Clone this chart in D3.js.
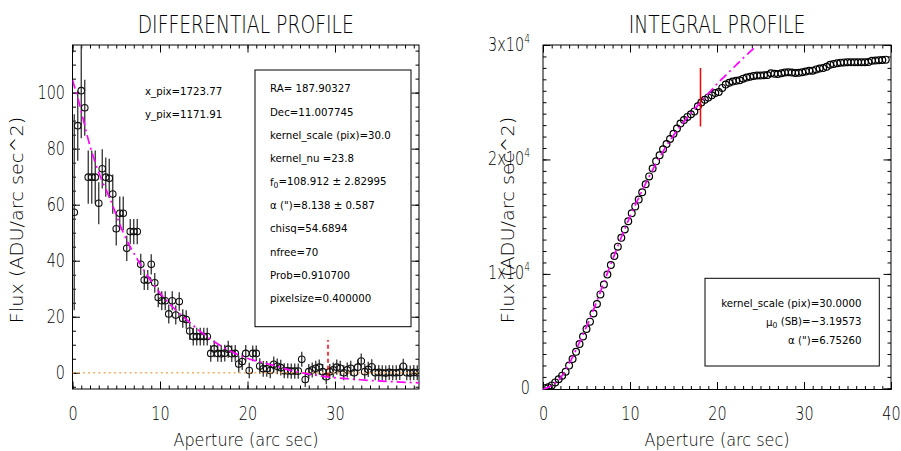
<!DOCTYPE html>
<html>
<head>
<meta charset="utf-8">
<script src="https://cdn.jsdelivr.net/npm/d3@7"></script>
<style>
  body { margin: 0; background: #fff; }
  text { font-family: "DejaVu Sans", sans-serif; font-weight: 300; fill: #000; }
  text.note { font-weight: 400; }
</style>
</head>
<body>
<svg id="chart" width="901" height="451"></svg>
<script>
// Aperture radii (arcsec) shared by both profiles
const aperture = [
  0.2,0.6,1.0,1.4,1.8,2.2,2.6,3.0,3.4,3.8,
  4.2,4.6,5.0,5.4,5.8,6.2,6.6,7.0,7.4,7.8,
  8.2,8.6,9.0,9.4,9.8,10.2,10.6,11.0,11.4,11.8,
  12.2,12.6,13.0,13.4,13.8,14.2,14.6,15.0,15.4,15.8,
  16.2,16.6,17.0,17.4,17.8,18.2,18.6,19.0,19.4,19.8,
  20.2,20.6,21.0,21.4,21.8,22.2,22.6,23.0,23.4,23.8,
  24.2,24.6,25.0,25.4,25.8,26.2,26.6,27.0,27.4,27.8,
  28.2,28.6,29.0,29.4,29.8,30.2,30.6,31.0,31.4,31.8,
  32.2,32.6,33.0,33.4,33.8,34.2,34.6,35.0,35.4,35.8,
  36.2,36.6,37.0,37.4,37.8,38.2,38.6,39.0,39.4
];

// Differential profile: surface brightness per annulus and its error
const diffFlux = [
  57.3,88.2,100.7,94.6,69.8,69.8,69.8,60.5,72.8,69.8,
  69.4,63.8,51.4,56.9,56.9,44.4,50.4,50.4,50.4,38.7,
  33.1,33.1,38.7,32.1,26.9,25.7,25.7,21.0,25.7,20.6,
  25.4,19.4,19.0,14.9,12.9,12.9,12.9,12.9,12.9,6.9,
  8.5,6.9,6.8,7.0,8.4,6.8,6.9,3.1,4.0,6.9,
  0.8,6.9,6.9,2.4,1.4,1.4,0.8,3.0,2.3,1.8,
  0.7,0.7,0.6,0.6,0.6,4.8,-2.4,0.4,1.0,1.6,
  2.0,0.4,-1.4,0.4,1.0,2.0,1.6,0.0,1.0,1.6,
  0.0,2.0,4.2,0.4,1.2,2.1,0.0,0.1,0.0,-0.1,
  0.1,0.0,0.0,0.1,2.3,0.0,-0.1,0.1,0.0
];
const diffErr = [
  35,12.5,17,10,9.5,9.5,9.5,7.5,7,7,
  7,7,6,6,6,4.5,4.5,4.5,4.5,3.8,
  3.6,3.6,3.6,3.5,3.5,3.4,3.4,3.4,3.4,3.4,
  3.3,3.3,3.3,3.2,3.2,3.2,3.2,3.2,3.2,3.0,
  3.0,3.0,3.0,3.0,3.0,3.0,3.0,3.0,3.0,3.0,
  2.8,2.8,2.8,2.8,2.8,2.8,2.8,2.8,2.8,2.8,
  2.7,2.7,2.7,2.7,2.7,2.7,2.7,2.7,2.7,2.7,
  2.7,2.7,2.7,2.7,2.7,2.7,2.7,2.7,2.7,2.7,
  2.7,2.7,2.7,2.7,2.7,2.7,2.7,2.7,2.7,2.7,
  2.7,2.7,2.7,2.7,2.7,2.7,2.7,2.7,2.7
];
// Fitted differential model
const diffFitX = [0,0.7,2,3,4.3,5.8,7.7,9.6,11.5,13.4,15.3,16.9,19.1,21,22.9,25.3,28.7,32.9,39.6];
const diffFitY = [104.5,97,81,71.5,62,50,39,30,23.3,18,13,9.7,6.2,4.2,2.7,0.6,-1.3,-2.5,-3.6];
const diffLimitX = 29.2;
const diffLimitY = [-1.4, 11.7];

// Integral (cumulative) profile and its fitted model
const intFlux = [
  20,100,260,520,800,1110,1450,1990,2560,3190,
  3880,4530,5180,5830,6540,7370,8210,9080,9940,10780,
  11570,12380,13150,13880,14600,15290,15900,16490,17130,17830,
  18520,19210,19840,20370,20890,21340,21790,22250,22700,23140,
  23440,23720,23950,24200,24650,24970,25220,25420,25600,25800,
  25900,26250,26550,26700,26800,26870,26920,27060,27150,27230,
  27300,27330,27340,27360,27380,27530,27480,27470,27530,27600,
  27620,27600,27560,27570,27620,27680,27740,27760,27870,27950,
  27980,28090,28280,28350,28400,28460,28480,28490,28490,28490,
  28490,28490,28490,28520,28620,28650,28660,28680,28720
];
const intFitX = [0,1,2,3,4,5,6,7,8,9,10,11,12,13,14,15,16,17,18,19,20,21,22,23,24,24.6];
const intFitY = [-100,250,900,2150,3700,5400,7250,9250,11250,13200,15000,16650,18200,19650,20950,22100,23100,24050,24900,25750,26600,27350,28100,28850,29550,30000];
const intLimitX = 18.1;
const intLimitY = [22880, 28000];

// Axis ticks
const diffTicksX = [0,10,20,30];
const diffTicksY = [0,20,40,60,80,100];
const intTicksX = [0,10,20,30,40];
const intTicksY = [0,10000,20000,30000];

// Annotation text
const diffCoords = ["x_pix=1723.77", "y_pix=1171.91"];
const diffNotes = [
  [{t:"RA= 187.90327"}],
  [{t:"Dec=11.007745"}],
  [{t:"kernel_scale (pix)=30.0"}],
  [{t:"kernel_nu =23.8"}],
  [{t:"f"},{t:"0",sub:true},{t:"=108.912 \u00b1 2.82995"}],
  [{t:"\u03b1 (\")=8.138 \u00b1 0.587"}],
  [{t:"chisq=54.6894"}],
  [{t:"nfree=70"}],
  [{t:"Prob=0.910700"}],
  [{t:"pixelsize=0.400000"}]
];
const intNotes = [
  [{t:"kernel_scale (pix)=30.0000"}],
  [{t:"\u03bc"},{t:"0",sub:true},{t:" (SB)=\u22123.19573"}],
  [{t:"\u03b1 (\")=6.75260"}]
];

const MAGENTA = "#ff00ff", ORANGE = "#ffa54f", RED = "#ff0000";

const svg = d3.select("#chart");
const defs = svg.append("defs");

// Condensed text: horizontal squeeze via scale transform
function label(g, x, y, parts, opt) {
  const o = Object.assign({size: 11, anchor: "start", k: 1, rotate: 0, cls: null}, opt);
  const t = g.append("text")
    .attr("class", o.cls)
    .attr("transform", `translate(${x},${y}) rotate(${o.rotate}) scale(${o.k},1)`)
    .attr("text-anchor", o.anchor)
    .style("font-size", o.size + "px");
  if (typeof parts === "string") parts = [{t: parts}];
  let shifted = false;
  parts.forEach(p => {
    const s = t.append("tspan").text(p.t);
    if (p.sub) { s.attr("dy", "0.3em").style("font-size", (o.size * 0.75) + "px"); shifted = true; }
    else if (shifted) { s.attr("dy", "-0.3em"); shifted = false; }
  });
  return t;
}

function axes(g, x, y, o) {
  const [x0, x1] = x.range(), [y0, y1] = y.range();
  const mk = (fn, scale, vals, len, tr, withLabels) => {
    const a = fn(scale).tickValues(vals).tickSize(-len).tickSizeOuter(0);
    if (!withLabels) a.tickFormat("");
    const ag = g.append("g").attr("transform", tr).call(a);
    ag.select(".domain").remove();
    ag.selectAll("line").attr("stroke", "#000").attr("stroke-width", 1);
    ag.attr("font-family", null).attr("font-size", null);
    return ag;
  };
  const bottom = mk(d3.axisBottom, x, o.xt, 7.5, `translate(0,${y0})`, true);
  mk(d3.axisBottom, x, o.xm, 3.5, `translate(0,${y0})`, false);
  mk(d3.axisTop, x, o.xt, 7.5, `translate(0,${y1})`, false);
  mk(d3.axisTop, x, o.xm, 3.5, `translate(0,${y1})`, false);
  const left = mk(d3.axisLeft, y, o.yt, 7.5, `translate(${x0},0)`, true);
  mk(d3.axisLeft, y, o.ym, 3.5, `translate(${x0},0)`, false);
  mk(d3.axisRight, y, o.yt, 7.5, `translate(${x1},0)`, false);
  mk(d3.axisRight, y, o.ym, 3.5, `translate(${x1},0)`, false);

  const kT = 0.76;
  bottom.selectAll("text")
    .style("font-size", "19px")
    .attr("y", 31).attr("dy", null)
    .attr("transform", `scale(${kT},1)`);
  left.selectAll("text")
    .style("font-size", "19px")
    .attr("text-anchor", "end")
    .attr("x", -7.5 / kT)
    .attr("transform", `scale(${kT},1)`);

  g.append("rect")
    .attr("x", x0).attr("y", y1)
    .attr("width", x1 - x0).attr("height", y0 - y1)
    .attr("fill", "none").attr("stroke", "#000").attr("stroke-width", 1);
  return {bottom, left};
}

function clip(id, x, y) {
  const [x0, x1] = x.range(), [y0, y1] = y.range();
  defs.append("clipPath").attr("id", id).append("rect")
    .attr("x", x0).attr("y", y1).attr("width", x1 - x0).attr("height", y0 - y1);
  return `url(#${id})`;
}

/* ---------------- Differential profile ---------------- */
const xL = d3.scaleLinear().domain([0, 39.6]).range([72.5, 419]);
const yL = d3.scaleLinear().domain([-5.8, 117]).range([389, 45]);
const gL = svg.append("g");

axes(gL, xL, yL, {
  xt: diffTicksX, xm: d3.range(0, 40, 1),
  yt: diffTicksY, ym: d3.range(-5, 117, 5)
});

const pL = gL.append("g").attr("clip-path", clip("clipL", xL, yL));
const diffPts = aperture.map((a, i) => ({x: a, y: diffFlux[i], e: diffErr[i]}));

pL.selectAll("line.err").data(diffPts).join("line")
  .attr("class", "err")
  .attr("x1", d => xL(d.x)).attr("x2", d => xL(d.x))
  .attr("y1", d => yL(d.y - d.e)).attr("y2", d => yL(d.y + d.e))
  .attr("stroke", "#333").attr("stroke-width", 1.3);

pL.selectAll("circle").data(diffPts).join("circle")
  .attr("cx", d => xL(d.x)).attr("cy", d => yL(d.y)).attr("r", 3.3)
  .attr("fill", "none").attr("stroke", "#111").attr("stroke-width", 1.1);

pL.append("line")
  .attr("x1", xL(0)).attr("x2", xL(39.6))
  .attr("y1", yL(0)).attr("y2", yL(0))
  .attr("stroke", ORANGE).attr("stroke-width", 1.6).attr("stroke-dasharray", "1.8,3.4");

pL.append("path")
  .datum(diffFitX.map((v, i) => [v, diffFitY[i]]))
  .attr("d", d3.line().x(d => xL(d[0])).y(d => yL(d[1])).curve(d3.curveMonotoneX))
  .attr("fill", "none").attr("stroke", MAGENTA).attr("stroke-width", 1.7)
  .attr("stroke-dasharray", "9,4,2,4");

pL.append("line")
  .attr("x1", xL(diffLimitX)).attr("x2", xL(diffLimitX))
  .attr("y1", yL(diffLimitY[0])).attr("y2", yL(diffLimitY[1]))
  .attr("stroke", RED).attr("stroke-width", 1.5).attr("stroke-dasharray", "4,3");

label(gL, 145, 94.5, diffCoords[0], {size: 11, k: 0.93, cls: "note"});
label(gL, 145, 118, diffCoords[1], {size: 11, k: 0.93, cls: "note"});

gL.append("rect").attr("x", 255).attr("y", 70).attr("width", 156).attr("height", 256.7)
  .attr("fill", "#fff").attr("stroke", "#000").attr("stroke-width", 1);
diffNotes.forEach((parts, i) =>
  label(gL, 270, 92.3 + i * 23.33, parts, {size: 11, k: 0.93, cls: "note"}));

label(gL, 245.7, 33, "DIFFERENTIAL PROFILE", {size: 25, anchor: "middle", k: 0.75});
label(gL, 246, 446, "Aperture (arc sec)", {size: 17.5, anchor: "middle", k: 0.92});
label(gL, 23, 220, "Flux (ADU/arc sec^2)", {size: 17.5, anchor: "middle", k: 1.1, rotate: -90});

/* ---------------- Integral profile ---------------- */
const xR = d3.scaleLinear().domain([0, 40]).range([543, 891]);
const yR = d3.scaleLinear().domain([-100, 30000]).range([389.5, 45]);
const gR = svg.append("g");

const axR = axes(gR, xR, yR, {
  xt: intTicksX, xm: d3.range(0, 41, 1),
  yt: intTicksY, ym: d3.range(0, 30001, 1000)
});
// Power-of-ten labels on the flux axis
axR.left.selectAll("text").each(function(d) {
  const t = d3.select(this).text("");
  t.attr("x", -13 / 0.76).attr("y", 5).attr("dy", null);
  if (d === 0) { t.text("0"); return; }
  t.append("tspan").text(`${d / 1e4}x10`);
  t.append("tspan").text("4").attr("dy", -8).style("font-size", "12px");
});

const pR = gR.append("g").attr("clip-path", clip("clipR", xR, yR));
pR.selectAll("circle").data(aperture.map((a, i) => [a, intFlux[i]])).join("circle")
  .attr("cx", d => xR(d[0])).attr("cy", d => yR(d[1])).attr("r", 3.4)
  .attr("fill", "none").attr("stroke", "#000").attr("stroke-width", 1.2);

pR.append("path")
  .datum(intFitX.map((v, i) => [v, intFitY[i]]))
  .attr("d", d3.line().x(d => xR(d[0])).y(d => yR(d[1])).curve(d3.curveMonotoneX))
  .attr("fill", "none").attr("stroke", MAGENTA).attr("stroke-width", 1.7)
  .attr("stroke-dasharray", "9,4,2,4");

pR.append("line")
  .attr("x1", xR(intLimitX)).attr("x2", xR(intLimitX))
  .attr("y1", yR(intLimitY[0])).attr("y2", yR(intLimitY[1]))
  .attr("stroke", RED).attr("stroke-width", 1.5);

gR.append("rect").attr("x", 705).attr("y", 278.3).attr("width", 174.3).attr("height", 87.7)
  .attr("fill", "#fff").attr("stroke", "#000").attr("stroke-width", 1);
[306.5, 325.5, 344].forEach((yy, i) =>
  label(gR, 861.5, yy, intNotes[i], {size: 11, anchor: "end", k: 0.93, cls: "note"}));

label(gR, 717, 33, "INTEGRAL PROFILE", {size: 25, anchor: "middle", k: 0.75});
label(gR, 717, 446, "Aperture (arc sec)", {size: 17.5, anchor: "middle", k: 0.92});
label(gR, 514, 220, "Flux (ADU/arc sec^2)", {size: 17.5, anchor: "middle", k: 1.1, rotate: -90});
</script>
</body>
</html>
